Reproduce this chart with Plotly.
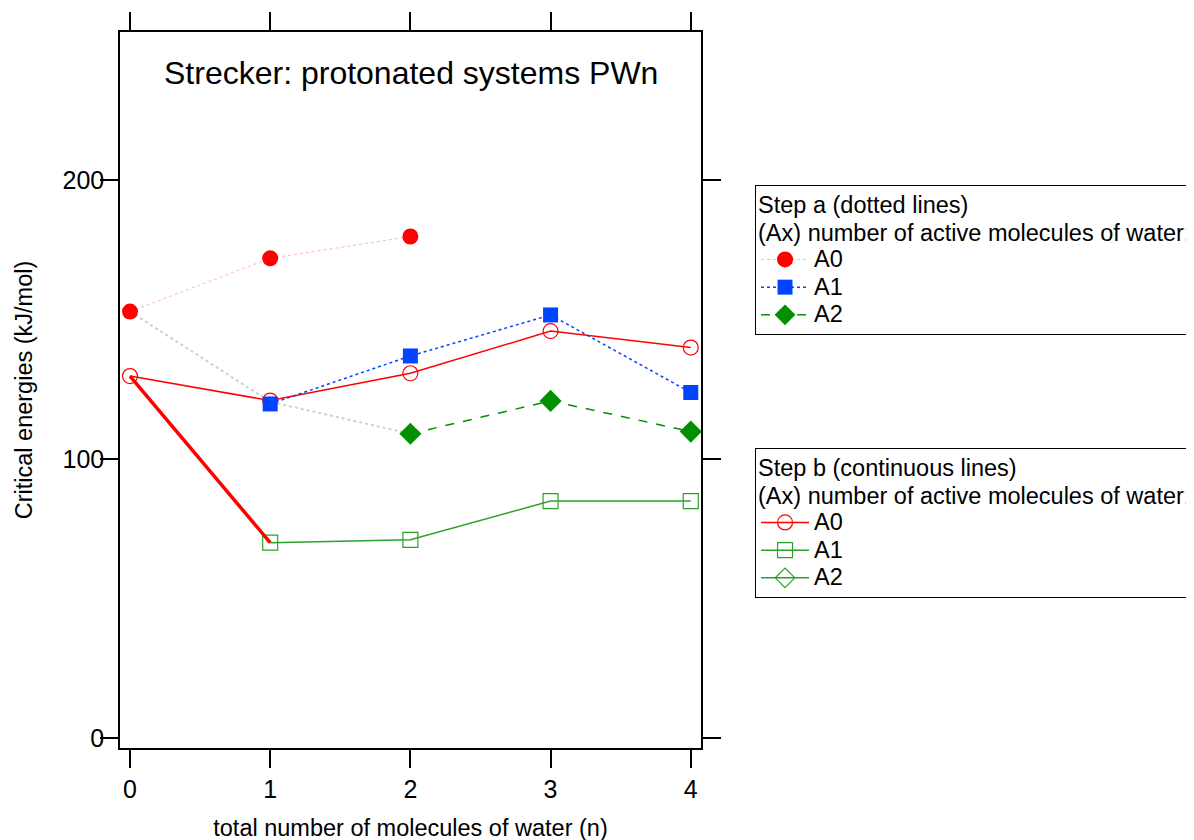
import plotly.graph_objects as go

# ----------------------------
# Data
# ----------------------------
n_water = [0, 1, 2, 3, 4]

# Step a (dotted lines)
a0_x = [0, 1, 2]
a0_y = [152.8, 171.9, 179.7]
a1_x = [1, 2, 3, 4]
a1_y = [119.7, 136.9, 151.6, 123.8]
a2_x = [2, 3, 4]
a2_y = [109.0, 120.8, 109.8]
# grey dotted connector (no legend entry)
grey_x = [0, 1, 2]
grey_y = [152.8, 120.5, 109.0]

# Step b (continuous lines)
b0_x = [0, 1, 2, 3, 4]
b0_y = [129.7, 120.9, 130.7, 145.8, 139.9]
b1_x = [1, 2, 3, 4]
b1_y = [70.0, 71.0, 84.9, 84.9]
# thick red connector (no legend entry)
link_x = [0, 1]
link_y = [129.7, 70.0]

y_ticks = [0, 100, 200]

FONT = "Liberation Sans, Arial, sans-serif"
RED = "#FF0000"
BLUE = "#0044FF"
GREEN_DARK = "#009000"
GREEN = "#2AA22A"


def big(txt, size=23.5):
    return f'<span style="font-size:{size}px">{txt}</span>'


fig = go.Figure()

# step b first so that step a markers sit on top
fig.add_trace(go.Scatter(
    x=b0_x, y=b0_y, mode="lines+markers", name=big("A0"), legend="legend2",
    line=dict(color=RED, width=1.5),
    marker=dict(symbol="circle-open", size=15, color=RED, line=dict(width=1.2))
))
fig.add_trace(go.Scatter(
    x=b1_x, y=b1_y, mode="lines+markers", name=big("A1"), legend="legend2",
    line=dict(color=GREEN, width=1.5),
    marker=dict(symbol="square-open", size=15, color=GREEN, line=dict(width=1.2))
))
fig.add_trace(go.Scatter(
    x=[None], y=[None], mode="lines+markers", name=big("A2"), legend="legend2",
    line=dict(color=GREEN, width=1.5),
    marker=dict(symbol="diamond-open", size=15, color=GREEN, line=dict(width=1.2))
))
fig.add_trace(go.Scatter(
    x=link_x, y=link_y, mode="lines", showlegend=False,
    line=dict(color=RED, width=3.5)
))
fig.add_trace(go.Scatter(
    x=grey_x, y=grey_y, mode="lines", showlegend=False,
    line=dict(color="#CFCFCF", width=2, dash="dot")
))

fig.add_trace(go.Scatter(
    x=a0_x, y=a0_y, mode="lines+markers", name=big("A0"), legend="legend",
    line=dict(color="rgba(255,0,0,0.3)", width=1, dash="dot"),
    marker=dict(symbol="circle", size=16, color=RED)
))
fig.add_trace(go.Scatter(
    x=a1_x, y=a1_y, mode="lines+markers", name=big("A1"), legend="legend",
    line=dict(color=BLUE, width=1.5, dash="dot"),
    marker=dict(symbol="square", size=15, color=BLUE)
))
fig.add_trace(go.Scatter(
    x=a2_x, y=a2_y, mode="lines+markers", name=big("A2"), legend="legend",
    line=dict(color=GREEN_DARK, width=1.5, dash="dash"),
    marker=dict(symbol="diamond", size=17, color=GREEN_DARK)
))

axis_common = dict(
    showline=True, linecolor="black", linewidth=1.5, mirror="ticks",
    ticks="outside", ticklen=18, tickwidth=1.5, tickcolor="black",
    showgrid=False, zeroline=False,
    tickfont=dict(family=FONT, size=25, color="black"),
)

legend_common = dict(
    xref="paper", yref="paper", xanchor="left", yanchor="top",
    bgcolor="white", bordercolor="black", borderwidth=1,
    font=dict(family=FONT, size=19, color="black"),
    itemwidth=48, tracegroupgap=0,
)

# the page body adds an 8 px offset, so the margins compensate for it
fig.update_layout(
    width=1194, height=840,
    margin=dict(l=112, r=501, t=24, b=100, autoexpand=False),
    paper_bgcolor="white", plot_bgcolor="white",
    font=dict(family=FONT, color="black"),
    xaxis=dict(
        axis_common, range=[-0.0713, 4.073], tickvals=n_water,
        title=dict(text="total number of molecules of water (n)",
                   font=dict(family=FONT, size=23.5), standoff=18),
    ),
    yaxis=dict(
        axis_common, range=[-3.6, 253], tickvals=y_ticks, ticklabelstandoff=-9,
        title=dict(text="Critical energies (kJ/mol)",
                   font=dict(family=FONT, size=23.5), standoff=23),
    ),
    legend=dict(
        legend_common, x=1.093, y=0.7863,
        title=dict(text=big("Step a (dotted lines)<br>(Ax) number of active molecules of water:"),
                   font=dict(family=FONT, size=21)),
    ),
    legend2=dict(
        legend_common, x=1.093, y=0.4190,
        title=dict(text=big("Step b (continuous lines)<br>(Ax) number of active molecules of water:"),
                   font=dict(family=FONT, size=21)),
    ),
    annotations=[dict(
        text="Strecker: protonated systems PWn", xref="paper", yref="paper",
        x=0.5, y=0.943, xanchor="center", yanchor="middle", showarrow=False,
        font=dict(family=FONT, size=32, color="black"),
    )],
)

fig.write_html("out.html")
